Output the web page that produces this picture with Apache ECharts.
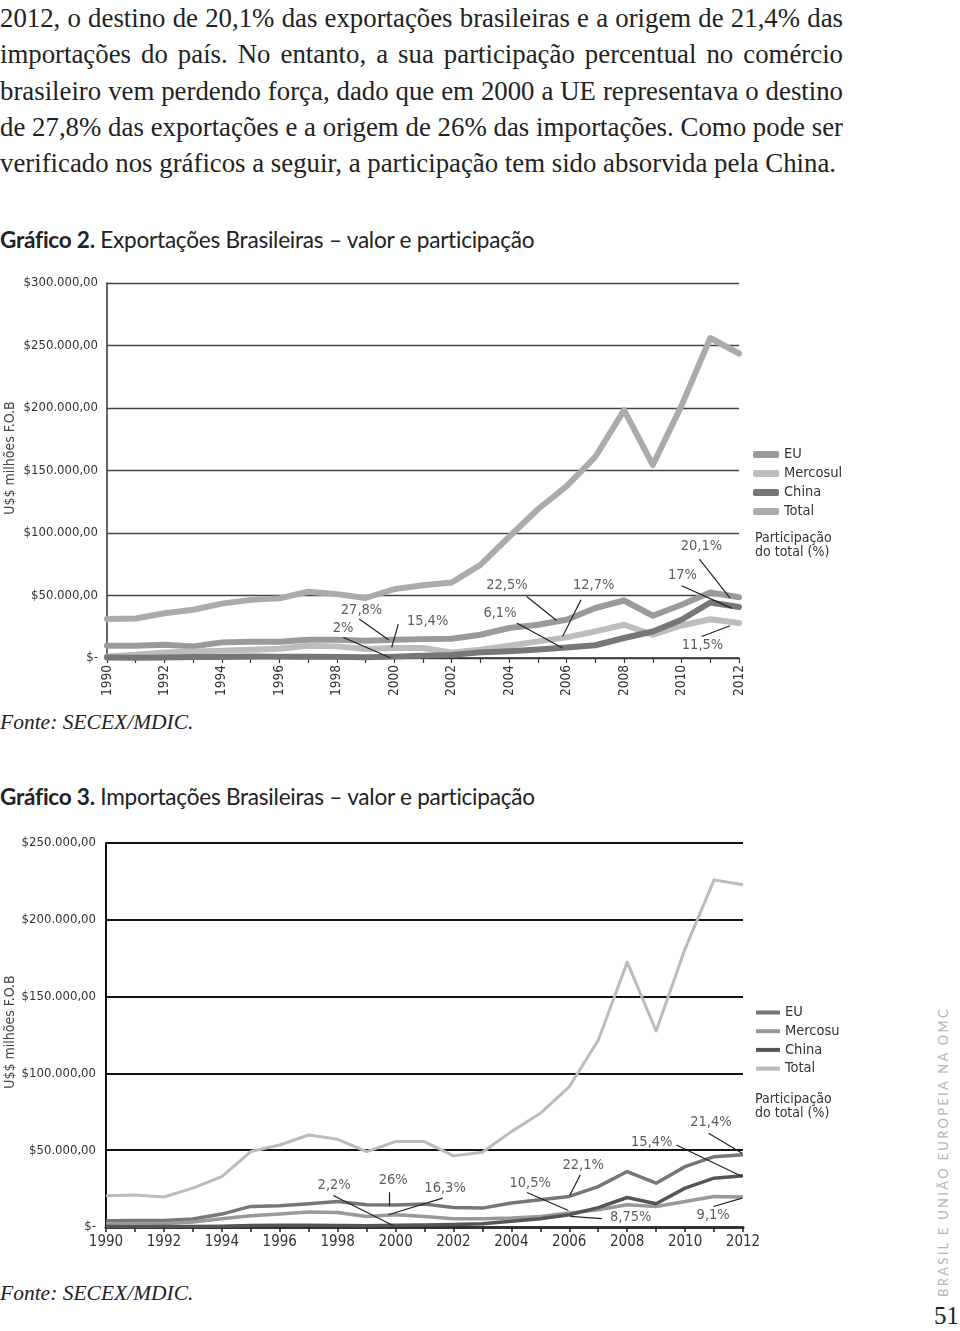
<!DOCTYPE html>
<html><head><meta charset="utf-8">
<script src="https://cdn.jsdelivr.net/npm/echarts@6/dist/echarts.min.js"></script>
<style>
html,body{margin:0;padding:0;background:#fff;width:960px;height:1331px;overflow:hidden;position:relative;}
.para{position:absolute;left:0;top:0;width:843px;font-family:'Liberation Serif','DejaVu Serif',serif;font-size:26.8px;line-height:36.3px;color:#222;}
.para div{white-space:nowrap;text-align:justify;text-align-last:justify;}
.para div.last{text-align-last:left;}
.title{position:absolute;left:0;font-family:'Lato','Open Sans',sans-serif;font-size:22.6px;line-height:24px;color:#222;white-space:nowrap;letter-spacing:-0.25px;}
.title b{font-weight:700;}
.fonte{position:absolute;left:0;font-family:'Liberation Serif','DejaVu Serif',serif;font-style:italic;font-size:21.5px;line-height:26px;color:#222;}
.side{position:absolute;left:943px;top:1152px;transform:translate(-50%,-50%) rotate(-90deg);font-family:'Lato','Open Sans',sans-serif;font-size:13px;letter-spacing:2.3px;color:#b5b5b5;white-space:nowrap;}
.page{position:absolute;left:934px;top:1302px;font-family:'Liberation Serif',serif;font-size:25px;color:#222;}
#c1{position:absolute;left:0;top:250px;width:960px;height:480px;}
#c2{position:absolute;left:0;top:810px;width:960px;height:470px;}
</style></head>
<body>
<div class="para">
<div>2012, o destino de 20,1% das exportações brasileiras e a origem de 21,4% das</div>
<div>importações do país. No entanto, a sua participação percentual no comércio</div>
<div>brasileiro vem perdendo força, dado que em 2000 a UE representava o destino</div>
<div>de 27,8% das exportações e a origem de 26% das importações. Como pode ser</div>
<div class="last">verificado nos gráficos a seguir, a participação tem sido absorvida pela China.</div>
</div>
<div class="title" style="top:228px"><b>Gráfico 2.</b> Exportações Brasileiras – valor e participação</div>
<div class="fonte" style="top:709px">Fonte: SECEX/MDIC.</div>
<div class="title" style="top:785px"><b>Gráfico 3.</b> Importações Brasileiras – valor e participação</div>
<div class="fonte" style="top:1280px">Fonte: SECEX/MDIC.</div>
<div class="side">BRASIL E UNIÃO EUROPEIA NA OMC</div>
<div class="page">51</div>
<div id="c1"></div>
<div id="c2"></div>
<script>
// ---------- DATA ----------
const years = [1990,1991,1992,1993,1994,1995,1996,1997,1998,1999,2000,2001,2002,2003,2004,2005,2006,2007,2008,2009,2010,2011,2012];

// Exportações (US$ milhões F.O.B)
const expEU       = [9800,9800,10600,9300,12500,13000,13000,14600,14600,13800,14600,15100,15400,18600,24000,26600,30600,40000,46000,33800,42600,52400,48600];
const expMercosul = [1300,2600,4500,5300,5800,6600,7400,9800,9300,7200,8000,8000,4500,6600,9800,13300,16500,21300,26600,18600,26000,31000,28000];
const expChina    = [400,230,460,780,820,1200,1100,1100,900,680,1100,1900,2500,4500,5400,6800,8400,10200,16000,21200,30600,44400,40800];
const expTotal    = [31200,31600,35800,38600,43500,46500,47700,53000,51100,48000,55100,58200,60400,74500,97000,119000,137500,161000,198300,154400,201900,256000,243600];

// Importações (US$ milhões F.O.B)
const impEU       = [4100,4200,4300,5200,8400,13400,13800,15100,16600,14500,14400,14900,12700,12300,15600,17700,19900,26300,36100,28500,39300,45800,47000];
const impMercosul = [2100,2300,2300,3200,5400,7300,8400,9700,9500,6900,8000,6900,5400,5400,5800,6900,9100,11200,14500,13400,16600,19900,19500];
const impChina    = [400,230,250,300,460,1000,1100,1200,1000,860,1200,1300,1600,2100,3700,5400,8000,12600,19200,15100,25300,31800,33300];
const impTotal    = [20300,20800,19500,25300,32800,49100,53400,59900,57100,49100,55600,55600,46300,48700,62100,74000,91300,121600,172400,127600,181100,226000,222800];

const seriesNames = ['EU','Mercosul','China','Total'];
const seriesNames2 = ['EU','Mercosu','China','Total'];

const yTicks1 = [0,50000,100000,150000,200000,250000,300000];
const yTicks2 = [0,50000,100000,150000,200000,250000];

// Participação annotations: [texto, anoTexto, valorTexto, anoInício, valorInício, anoFim, valorFim]
const expNotes = [
  ['27,8%',1998.86,38600,1998.78,31150,1999.80,14600],
  ['2%',   1998.22,23800,1998.23,16450,1999.88,0],
  ['15,4%',2001.16,29400,2000.14,27150,1999.91,8470],
  ['22,5%',2003.92,58500,2004.61,49200,2005.65,30030],
  ['6,1%', 2003.68,35800,2004.26,27950,2005.86,7990],
  ['12,7%',2006.94,58500,2006.50,46560,2005.86,17250],
  ['20,1%',2010.69,89300,2010.62,79070,2011.69,47920],
  ['17%',  2010.03,66530,2010.00,57750,2011.74,39935],
  ['11,5%',2010.73,10220,2010.70,17250,2011.69,25800]
];
const impNotes = [
  ['2,2%', 1997.88,27450,1997.85,20500,1999.93,840],
  ['26%',  1999.92,30700,1999.79,22700,1999.79,13800],
  ['16,3%',2001.71,25180,2001.63,18820,1999.75,7980],
  ['10,5%',2004.65,28430,2004.54,22450,2005.97,10770],
  ['22,1%',2006.48,40100,2006.38,33940,2006.01,20310],
  ['8,75%',2008.12,6360, 2007.13,5390, 2006.03,6880],
  ['21,4%',2010.89,68000,2010.81,61000,2011.97,48030],
  ['15,4%',2008.85,55040,2009.70,53410,2011.97,32840],
  ['9,1%', 2010.97,7660, 2010.98,13370,2011.97,18820]
];

// ---------- HELPERS ----------
const FONT = "'DejaVu Sans Condensed','Liberation Sans Narrow','DejaVu Sans',sans-serif";
const FW = 'condensed';
function money(v){
  if (v === 0) return '$-';
  return '$' + String(v).replace(/\B(?=(\d{3})+(?!\d))/g,'.') + ',00';
}
function pairs(vals){ return years.map((y,i)=>[y, vals[i]]); }
function noteSeries(notes){
  return [
    {type:'lines', coordinateSystem:'cartesian2d', silent:true, z:5,
     lineStyle:{color:'#222', width:1.2, opacity:1, curveness:0},
     data: notes.map(n=>({coords:[[n[3],n[4]],[n[5],n[6]]]}))},
    {type:'scatter', silent:true, z:6, symbolSize:1, itemStyle:{color:'rgba(0,0,0,0)'},
     label:{show:true, position:'inside', color:'#333', fontFamily:FONT, fontWeight:FW, fontSize:14.5,
            formatter:p=>p.data[2]},
     data: notes.map(n=>[n[1],n[2],n[0]])}
  ];
}

// ---------- CHART 1 ----------
const c1 = echarts.init(document.getElementById('c1'), null, {renderer:'canvas'});
const colors1 = ['#9a9a9a','#bdbdbd','#777777','#ababab'];
const data1 = [expEU, expMercosul, expChina, expTotal];
c1.setOption({
  animation:false,
  grid:{left:107, top:33, width:632, height:375},
  xAxis:{type:'value', min:1990, max:2012, interval:1,
    axisLine:{show:true, lineStyle:{color:'#333', width:1.5}},
    axisTick:{show:true, length:5, lineStyle:{color:'#333', width:1.2}},
    splitLine:{show:false},
    axisLabel:{rotate:90, margin:7, fontFamily:FONT, fontWeight:FW, fontSize:13.5, color:'#333',
      formatter:v=> (v%2===0 ? String(v) : '')}},
  yAxis:{type:'value', min:yTicks1[0], max:yTicks1[yTicks1.length-1], interval:50000,
    axisLine:{show:true, lineStyle:{color:'#333', width:1.5}},
    axisTick:{show:false},
    splitLine:{show:true, lineStyle:{color:'#444', width:1.3}},
    axisLabel:{margin:9, fontFamily:FONT, fontWeight:FW, fontSize:13, color:'#333', formatter:money}},
  legend:{orient:'vertical', left:753, top:196, icon:'roundRect', itemWidth:26, itemHeight:7,
    itemGap:2, padding:0, selectedMode:false,
    textStyle:{fontFamily:FONT, fontWeight:FW, fontSize:14.5, color:'#333', lineHeight:17},
    data:seriesNames},
  graphic:[
    {type:'text', left:755, top:281, style:{text:'Participação\ndo total (%)', fontFamily:FONT, fontWeight:FW, fontSize:14, fill:'#333', lineHeight:14}},
    {type:'text', x:10, y:208, rotation:Math.PI/2, style:{text:'U$$ milhões F.O.B', fontFamily:FONT, fontWeight:FW, fontSize:14, fill:'#444', textAlign:'center', textVerticalAlign:'middle'}}
  ],
  series: seriesNames.map((n,i)=>({
    name:n, type:'line', symbol:'none', data:pairs(data1[i]), z:(n==='China'?3:2),
    lineStyle:{color:colors1[i], width:6, cap:'round', join:'round'},
    itemStyle:{color:colors1[i]}
  })).concat(noteSeries(expNotes))
});

// ---------- CHART 2 ----------
const c2 = echarts.init(document.getElementById('c2'), null, {renderer:'canvas'});
const colors2 = ['#777777','#999999','#555555','#bbbbbb'];
const data2 = [impEU, impMercosul, impChina, impTotal];
c2.setOption({
  animation:false,
  grid:{left:106, top:33, width:637, height:384},
  xAxis:{type:'value', min:1990, max:2012, interval:1,
    axisLine:{show:true, lineStyle:{color:'#333', width:3}},
    axisTick:{show:true, length:5, lineStyle:{color:'#222', width:1.5}},
    splitLine:{show:false},
    axisLabel:{margin:8, fontFamily:FONT, fontWeight:FW, fontSize:15, color:'#333',
      formatter:v=> (v%2===0 ? String(v) : '')}},
  yAxis:{type:'value', min:yTicks2[0], max:yTicks2[yTicks2.length-1], interval:50000,
    axisLine:{show:true, lineStyle:{color:'#111', width:2}},
    axisTick:{show:false},
    splitLine:{show:true, lineStyle:{color:'#111', width:2}},
    axisLabel:{margin:10, fontFamily:FONT, fontWeight:FW, fontSize:13, color:'#333', formatter:money}},
  legend:{orient:'vertical', left:756, top:194, icon:'rect', itemWidth:24, itemHeight:4,
    itemGap:1.7, padding:0, selectedMode:false,
    textStyle:{fontFamily:FONT, fontWeight:FW, fontSize:14.5, color:'#333', lineHeight:17},
    data:seriesNames2},
  graphic:[
    {type:'text', left:755, top:282, style:{text:'Participação\ndo total (%)', fontFamily:FONT, fontWeight:FW, fontSize:14, fill:'#333', lineHeight:14}},
    {type:'text', x:10, y:222, rotation:Math.PI/2, style:{text:'U$$ milhões F.O.B', fontFamily:FONT, fontWeight:FW, fontSize:14, fill:'#444', textAlign:'center', textVerticalAlign:'middle'}}
  ],
  series: seriesNames2.map((n,i)=>({
    name:n, type:'line', symbol:'none', data:pairs(data2[i]), z:2,
    lineStyle:{color:colors2[i], width:(n==='Total'?3:3.5), join:'round'},
    itemStyle:{color:colors2[i]}
  })).concat(noteSeries(impNotes))
});
</script>
</body></html>
